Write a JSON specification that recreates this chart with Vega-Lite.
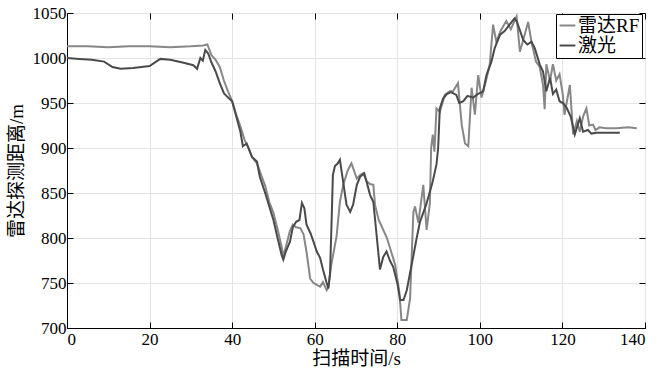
{
  "$schema": "https://vega.github.io/schema/vega-lite/v6.json",
  "width": 578,
  "height": 315,
  "autosize": {"type": "none"},
  "padding": {"left": 67, "top": 13, "right": 21, "bottom": 47},
  "background": "white",
  "config": {
    "view": {"stroke": "black", "strokeWidth": 1},
    "font": "Liberation Serif, Noto Sans CJK SC",
    "axis": {
      "labelFont": "Liberation Serif, Noto Sans CJK SC",
      "titleFont": "Liberation Serif, Noto Sans CJK SC",
      "labelFontSize": 17,
      "titleFontSize": 19,
      "titleFontWeight": "normal",
      "labelColor": "black",
      "titleColor": "black",
      "domainColor": "black",
      "tickColor": "black",
      "gridColor": "#e4e4e4",
      "gridWidth": 1
    }
  },
  "datasets": {
    "rf": [
      {"t":0,"d":1013},{"t":5,"d":1013},{"t":10,"d":1012},{"t":15,"d":1013},{"t":20,"d":1013},{"t":25,"d":1012},{"t":30,"d":1013},{"t":33,"d":1014},{"t":34,"d":1015},{"t":35,"d":1003},{"t":36,"d":998},{"t":37,"d":990},{"t":38,"d":975},{"t":39,"d":963},{"t":40,"d":952},{"t":41,"d":937},{"t":42,"d":924},{"t":43,"d":909},{"t":44,"d":900},{"t":44.8,"d":890},{"t":46,"d":883},{"t":47.2,"d":868},{"t":48,"d":858},{"t":49,"d":840},{"t":50,"d":828},{"t":51,"d":810},{"t":52,"d":790},{"t":52.4,"d":780},{"t":53,"d":790},{"t":54,"d":808},{"t":54.7,"d":815},{"t":55.5,"d":812},{"t":56.5,"d":811},{"t":57.3,"d":804},{"t":58,"d":785},{"t":58.9,"d":755},{"t":59.7,"d":750},{"t":60.5,"d":748},{"t":61.3,"d":746},{"t":62,"d":751},{"t":62.9,"d":742},{"t":63.3,"d":745},{"t":64,"d":770},{"t":65.3,"d":802},{"t":66.1,"d":840},{"t":66.9,"d":859},{"t":68,"d":875},{"t":68.9,"d":883},{"t":70.2,"d":866},{"t":71,"d":870},{"t":71.7,"d":872},{"t":72.6,"d":863},{"t":73.4,"d":860},{"t":74.2,"d":859},{"t":74.6,"d":837},{"t":75.5,"d":820},{"t":76.5,"d":810},{"t":77.5,"d":800},{"t":78.5,"d":785},{"t":79.5,"d":770},{"t":80.5,"d":740},{"t":81,"d":709},{"t":82.3,"d":709},{"t":83.1,"d":733},{"t":83.9,"d":829},{"t":84.3,"d":835},{"t":85.1,"d":817},{"t":86.3,"d":859},{"t":87.1,"d":809},{"t":87.9,"d":839},{"t":88.2,"d":900},{"t":88.6,"d":915},{"t":89,"d":896},{"t":89.5,"d":944},{"t":90.3,"d":940},{"t":91.5,"d":959},{"t":92.7,"d":963},{"t":93.5,"d":963},{"t":94.7,"d":972},{"t":95.6,"d":926},{"t":96.4,"d":905},{"t":97.2,"d":902},{"t":98,"d":967},{"t":98.8,"d":937},{"t":99.6,"d":981},{"t":100.4,"d":956},{"t":101.5,"d":975},{"t":102.4,"d":993},{"t":103.2,"d":1037},{"t":104,"d":1018},{"t":105,"d":1030},{"t":106.4,"d":1041},{"t":107.5,"d":1032},{"t":108.9,"d":1046},{"t":109.7,"d":1007},{"t":110.5,"d":1020},{"t":111.7,"d":1040},{"t":112.5,"d":1018},{"t":113.6,"d":996},{"t":114.5,"d":990},{"t":115.3,"d":970},{"t":115.7,"d":943},{"t":116.1,"d":993},{"t":117,"d":975},{"t":117.7,"d":993},{"t":118.5,"d":975},{"t":119.3,"d":982},{"t":120.1,"d":959},{"t":120.5,"d":937},{"t":121.8,"d":970},{"t":122.6,"d":915},{"t":123.5,"d":930},{"t":124.2,"d":918},{"t":125,"d":935},{"t":125.8,"d":944},{"t":126.5,"d":925},{"t":127.4,"d":926},{"t":128,"d":920},{"t":129,"d":923},{"t":130.6,"d":922},{"t":133,"d":922},{"t":136,"d":923},{"t":138,"d":922}
    ],
    "laser": [
      {"t":0,"d":1000},{"t":3,"d":999},{"t":6,"d":998},{"t":9,"d":996},{"t":11,"d":990},{"t":13,"d":988},{"t":16,"d":989},{"t":20,"d":991},{"t":22.6,"d":999},{"t":25,"d":998},{"t":28,"d":995},{"t":30.6,"d":992},{"t":31.5,"d":988},{"t":32.3,"d":1000},{"t":32.9,"d":997},{"t":33.5,"d":1009},{"t":34.2,"d":1005},{"t":35,"d":995},{"t":36,"d":985},{"t":37,"d":972},{"t":38,"d":961},{"t":39,"d":956},{"t":40,"d":952},{"t":41,"d":935},{"t":42,"d":918},{"t":42.6,"d":902},{"t":43.5,"d":905},{"t":44.8,"d":890},{"t":46,"d":885},{"t":46.7,"d":868},{"t":48,"d":850},{"t":50,"d":820},{"t":51,"d":800},{"t":52,"d":781},{"t":52.4,"d":776},{"t":53,"d":785},{"t":54,"d":796},{"t":54.7,"d":812},{"t":55.5,"d":818},{"t":56.3,"d":820},{"t":56.9,"d":839},{"t":57.5,"d":833},{"t":58,"d":815},{"t":59,"d":805},{"t":59.7,"d":796},{"t":60.5,"d":785},{"t":61.3,"d":778},{"t":62,"d":765},{"t":62.9,"d":750},{"t":63.3,"d":744},{"t":63.7,"d":760},{"t":64.1,"d":820},{"t":64.4,"d":870},{"t":64.9,"d":880},{"t":65.6,"d":883},{"t":66.1,"d":887},{"t":66.9,"d":862},{"t":67.7,"d":837},{"t":68.6,"d":829},{"t":69.3,"d":837},{"t":70.2,"d":859},{"t":71,"d":868},{"t":72,"d":872},{"t":72.6,"d":862},{"t":73.4,"d":848},{"t":74.2,"d":840},{"t":75,"d":803},{"t":75.8,"d":765},{"t":76.6,"d":779},{"t":77.4,"d":785},{"t":78.2,"d":775},{"t":79,"d":768},{"t":80,"d":750},{"t":80.7,"d":731},{"t":81.5,"d":731},{"t":82.3,"d":742},{"t":83.8,"d":778},{"t":84.7,"d":800},{"t":85.5,"d":818},{"t":87,"d":837},{"t":88.6,"d":863},{"t":89.5,"d":882},{"t":89.9,"d":900},{"t":90.3,"d":944},{"t":91.1,"d":955},{"t":92,"d":960},{"t":93,"d":962},{"t":94.3,"d":959},{"t":95,"d":950},{"t":96,"d":952},{"t":97,"d":958},{"t":98.4,"d":956},{"t":99.5,"d":960},{"t":100.8,"d":963},{"t":101.6,"d":981},{"t":102.8,"d":996},{"t":103.6,"d":1011},{"t":104.9,"d":1026},{"t":106,"d":1030},{"t":107.2,"d":1037},{"t":108.4,"d":1044},{"t":109,"d":1040},{"t":110.5,"d":1020},{"t":111.5,"d":1015},{"t":112.5,"d":1018},{"t":113.3,"d":1011},{"t":114.5,"d":993},{"t":115.3,"d":985},{"t":116.1,"d":963},{"t":117,"d":978},{"t":117.7,"d":960},{"t":118.5,"d":965},{"t":119.3,"d":952},{"t":120.1,"d":950},{"t":121,"d":945},{"t":122,"d":935},{"t":123,"d":915},{"t":124.2,"d":933},{"t":125,"d":918},{"t":126.2,"d":920},{"t":127,"d":916},{"t":128.2,"d":917},{"t":130,"d":917},{"t":132,"d":917},{"t":133.9,"d":917}
    ]
  },
  "layer": [
    {
      "data": {"name": "rf"},
      "transform": [{"calculate": "'雷达RF'", "as": "s"}],
      "mark": {"type": "line", "strokeWidth": 2},
      "encoding": {
        "x": {"field": "t", "type": "quantitative", "scale": {"domain": [0, 140], "nice": false},
              "axis": {"title": "扫描时间/s", "values": [0,20,40,60,80,100,120,140], "format": "d", "tickSize": -6, "labelPadding": 9, "titlePadding": 2, "grid": true}},
        "y": {"field": "d", "type": "quantitative", "scale": {"domain": [700, 1050], "nice": false, "zero": false},
              "axis": {"title": "雷达探测距离/m", "values": [700,750,800,850,900,950,1000,1050], "format": "d", "tickSize": -6, "labelPadding": 7, "titlePadding": 6, "grid": true}},
        "color": {"field": "s", "type": "nominal",
                  "scale": {"domain": ["雷达RF", "激光"], "range": ["#878787", "#4a4a4a"]},
                  "legend": {"title": null, "orient": "none", "legendX": 489, "legendY": 1, "symbolType": "stroke", "symbolSize": 250, "symbolStrokeWidth": 2, "labelFontSize": 19, "labelFont": "Liberation Serif, Noto Sans CJK SC", "labelColor": "black", "strokeColor": "black", "fillColor": "white", "padding": 2, "rowPadding": -3, "labelOffset": 1}}
      }
    },
    {
      "data": {"name": "laser"},
      "transform": [{"calculate": "'激光'", "as": "s"}],
      "mark": {"type": "line", "strokeWidth": 2},
      "encoding": {
        "x": {"field": "t", "type": "quantitative", "axis": null},
        "y": {"field": "d", "type": "quantitative", "axis": null},
        "color": {"field": "s", "type": "nominal"}
      }
    },
    {
      "data": {"values": [{"t": 0, "d": 700}]},
      "mark": {"type": "point", "opacity": 0},
      "encoding": {
        "x": {"field": "t", "type": "quantitative",
              "axis": {"orient": "top", "title": null, "labels": false, "values": [0,20,40,60,80,100,120,140], "tickSize": -6, "grid": false, "domain": false}},
        "y": {"field": "d", "type": "quantitative",
              "axis": {"orient": "right", "title": null, "labels": false, "values": [700,750,800,850,900,950,1000,1050], "tickSize": -6, "grid": false, "domain": false}}
      }
    }
  ],
  "resolve": {"axis": {"x": "independent", "y": "independent"}}
}
